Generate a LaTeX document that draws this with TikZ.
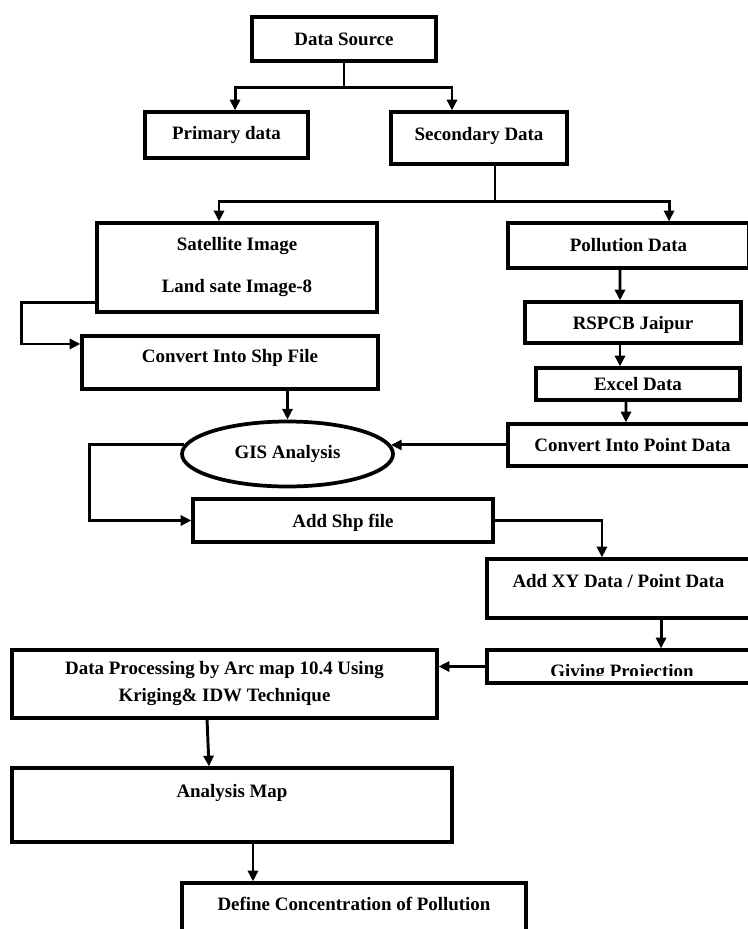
\documentclass[tikz,border=0pt]{standalone}
\usepackage{fontspec}
\setmainfont{Liberation Serif}
\usetikzlibrary{arrows.meta,shapes.geometric}

\begin{document}
\begin{tikzpicture}[
            x=0.75pt, y=-0.75pt,
            box/.style={draw, rectangle, line width=2.4pt, inner sep=0pt},
            oval/.style={draw, ellipse, line width=2.8pt, inner sep=0pt},
            every node/.style={align=center, font=\fontsize{14.2pt}{17pt}\selectfont\bfseries},
            flow/.style={-{Triangle[length=8pt,width=7.5pt]}, line width=2.2pt}
  ]

  \useasboundingbox (0,0) rectangle (748,929);
  \clip (0,0) rectangle (748,929);

  \node[box, minimum width=138pt, minimum height=33pt] (src) at (344,39) {Data Source};
  \node[box, minimum width=122.25pt, minimum height=34.5pt] (prim) at (226.5,135) {Primary data};
  \node[box, minimum width=132pt, minimum height=39pt, text depth=6.75pt] (sec) at (479,138) {Secondary Data};
  \node[box, minimum width=210pt, minimum height=66.75pt] (sat) at (237,267.5) {Satellite Image\\[14.5pt]Land sate Image-8};
  \node[box, minimum width=180.75pt, minimum height=33.75pt] (poll) at (628.5,245.5) {Pollution Data};
  \node[box, minimum width=162pt, minimum height=30.75pt, text depth=0pt] (rspcb) at (633,322.5) {RSPCB Jaipur};
  \node[box, minimum width=153pt, minimum height=24pt] (excel) at (638,384) {Excel Data};
  \node[box, minimum width=186.75pt, minimum height=31.5pt] (cipd) at (632.5,445) {Convert Into Point Data};
  \node[box, minimum width=222pt, minimum height=39.75pt, text depth=10.5pt] (shp) at (230,362.5) {Convert Into Shp File};
  \node[oval, minimum width=158.25pt, minimum height=48.75pt] (gis) at (287.5,454) {GIS Analysis};
  \node[box, minimum width=225pt, minimum height=32.25pt, text depth=0pt] (addshp) at (343,520.5) {Add Shp file};
  \node[box, minimum width=197.25pt, minimum height=44.25pt, text depth=12pt] (addxy) at (618.5,588.5) {Add XY Data / Point Data};
  \node[box, minimum width=197.25pt, minimum height=24.75pt] (proj) at (618.5,666.5) {};
  \node[box, minimum width=318.75pt, minimum height=51pt] (proc) at (224.5,684) {Data Processing by Arc map 10.4 Using\\[3.25pt]Kriging\& IDW Technique};
  \node[box, minimum width=330pt, minimum height=55.5pt, text depth=21.75pt] (amap) at (232,805) {Analysis Map};
  \node[box, minimum width=258pt, minimum height=55.5pt, text depth=24pt] (conc) at (354,920) {Define Concentration of Pollution};

  \begin{scope}
    \clip (487,650) rectangle (750,675.5);
    \node[anchor=base] (projtxt) at (622,677.5) {Giving Projection};
  \end{scope}

  \draw[flow] (src.south) -- ++(0,25) -| ([xshift=6.4pt]prim.north);
  \draw[flow] (src.south) -- ++(0,25) -| ([xshift=-20.25pt]sec.north);
  \draw[flow] ([xshift=12pt]sec.south) -- ++(0,36) -| ([xshift=-13.5pt]sat.north);
  \draw[flow] ([xshift=12pt]sec.south) -- ++(0,36) -| ([xshift=30.4pt]poll.north);

  \draw[flow] ([yshift=-25.9pt]sat.west) -- ++(-74,0) |- ([yshift=13.9pt]shp.west);
  \draw[flow] (shp.south -| gis.north) -- (gis.north);

  \draw[flow] ([xshift=-6.4pt]poll.south) -- ([xshift=-9.75pt]rspcb.north);
  \draw[flow] ([xshift=-9.75pt]rspcb.south) -- ([xshift=-13.5pt]excel.north);
  \draw[flow] ([xshift=-9pt]excel.south) -- ([xshift=-4.9pt]cipd.north);
  \draw[flow] (cipd.west |- gis.5) -- (gis.5);

  \draw[flow] (gis.175) -- ++(-94,0) |- (addshp.west);
  \draw[flow] (addshp.east) -| ([xshift=-12.4pt]addxy.north);
  \draw[flow] ([xshift=31.9pt]addxy.south) -- ([xshift=31.9pt]proj.north);
  \draw[flow] (proj.west) -- (proj.west -| proc.east);

  \draw[flow] ([xshift=-13.1pt]proc.south) -- ([xshift=-17.25pt]amap.north);
  \draw[flow] ([xshift=15.75pt]amap.south) -- ([xshift=-75.75pt]conc.north);

\end{tikzpicture}
\end{document}
